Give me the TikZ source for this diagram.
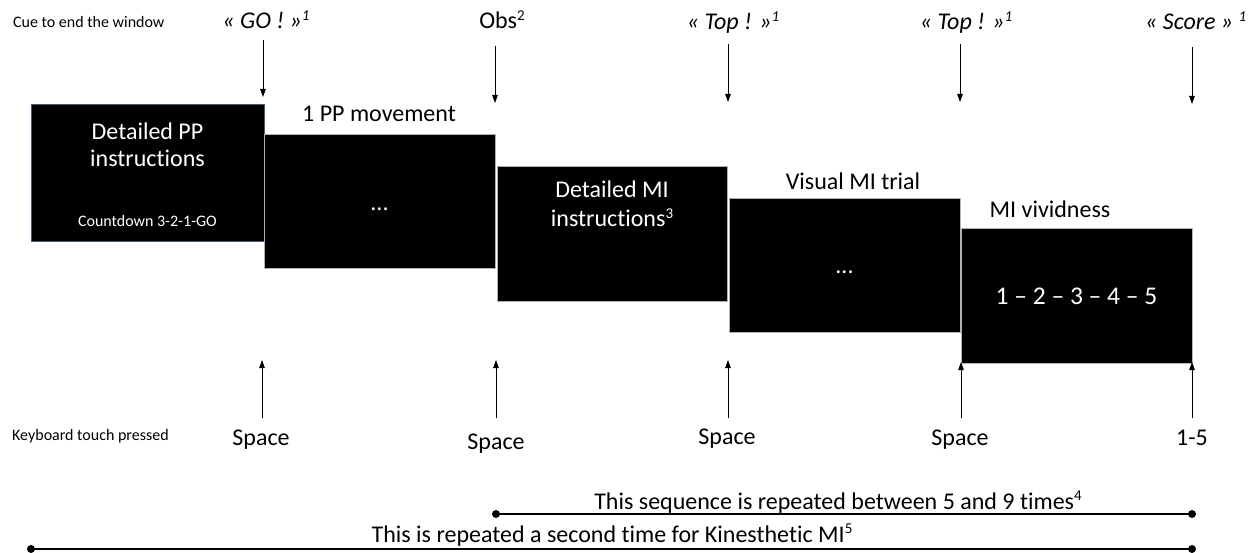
\documentclass[tikz,border=0pt]{standalone}
\usepackage{fontspec}
\setmainfont[Ligatures=NoCommon]{Carlito}
\usetikzlibrary{arrows.meta}
\newcommand\sps[1]{\raisebox{0.36em}{\fontsize{15}{18}\selectfont #1}}
\begin{document}
\begin{tikzpicture}[x=1pt,y=-1pt,
  scr/.style={fill=black,draw=gray!60,line width=0.8pt,inner sep=0pt},
  txt/.style={inner sep=0pt,anchor=base,font=\fontsize{24}{29}\selectfont},
  wtxt/.style={txt,text=white},
  small/.style={inner sep=0pt,anchor=base west,font=\fontsize{16}{19}\selectfont},
  cue/.style={txt,font=\fontsize{24}{29}\selectfont\itshape},
  arr/.style={line width=0.9pt,-{Triangle[length=8pt,width=5.5pt]}},
  rep/.style={line width=2.2pt},
  enddot/.style={circle,fill=black,inner sep=0pt,minimum size=8pt}]
\path[use as bounding box] (0,0) rectangle (1257,553);

% screens
\node[scr,draw={rgb,255:red,70;green,90;blue,120},minimum width=233,minimum height=137] (s1) at (147.5,172.5) {};
\node[scr,minimum width=231,minimum height=134] (s2) at (379.5,201) {};
\node[scr,minimum width=230,minimum height=135] (s3) at (612,233.5) {};
\node[scr,minimum width=231,minimum height=134] (s4) at (844.5,265) {};
\node[scr,minimum width=231,minimum height=135] (s5) at (1076.5,295.5) {};

% texts inside screens
\node[wtxt] (s1a) at (147.5,140) {Detailed PP};
\node[wtxt] (s1b) at (147.5,167) {instructions};
\node[wtxt,font=\fontsize{16}{19}\selectfont] (s1c) at (147.5,227) {Countdown 3-2-1-GO};
\node[wtxt] (s2a) at (379.5,211) {...};
\node[wtxt] (s3a) at (612,198) {Detailed MI};
\node[wtxt] (s3b) at (612,227) {instructions\sps{3}};
\node[wtxt] (s4a) at (844.5,273) {...};
\node[wtxt,font=\fontsize{25.5}{31}\selectfont] (s5a) at (1076.5,304) {1 – 2 – 3 – 4 – 5};

% titles above screens
\node[txt] (t2) at (379,122) {1 PP movement};
\node[txt] (t4) at (853,190) {Visual MI trial};
\node[txt] (t5) at (1050,218) {MI vividness};

% row labels
\node[small] (cuelbl) at (13,28) {Cue to end the window};
\node[small] (keylbl) at (12,440) {Keyboard touch pressed};

% cues
\node[cue] (c1) at (266,29) {« GO ! »\sps{1}};
\node[txt] (c2) at (502,29) {Obs\sps{2}};
\node[cue] (c3) at (733,30) {« Top ! »\sps{1}};
\node[cue] (c4) at (966,30) {« Top ! »\sps{1}};
\node[cue,anchor=base west] (c5) at (1145,30) {« Score » \sps{1}};

% top arrows
\coordinate (a1) at (263,40);  \coordinate (a1e) at (263,97);
\coordinate (a2) at (495,46);  \coordinate (a2e) at (495,103);
\coordinate (a3) at (728,44);  \coordinate (a3e) at (728,102);
\coordinate (a4) at (960,44);  \coordinate (a4e) at (960,102);
\coordinate (a5) at (1192,47); \coordinate (a5e) at (1192,104);
\draw[arr] (a1) -- (a1e);
\draw[arr] (a2) -- (a2e);
\draw[arr] (a3) -- (a3e);
\draw[arr] (a4) -- (a4e);
\draw[arr] (a5) -- (a5e);

% keys
\node[txt] (k1) at (261,445) {Space};
\node[txt] (k2) at (496,449) {Space};
\node[txt] (k3) at (727,444) {Space};
\node[txt] (k4) at (960,445) {Space};
\node[txt] (k5) at (1192,445) {1-5};

% bottom arrows
\coordinate (b1) at (262,418);  \coordinate (b1e) at (262,360);
\coordinate (b2) at (496,418);  \coordinate (b2e) at (496,360);
\coordinate (b3) at (728,418);  \coordinate (b3e) at (728,360);
\coordinate (b4) at (961,418);  \coordinate (b4e) at (961,362);
\coordinate (b5) at (1192,418); \coordinate (b5e) at (1192,362);
\draw[arr] (b1) -- (b1e);
\draw[arr] (b2) -- (b2e);
\draw[arr] (b3) -- (b3e);
\draw[arr] (b4) -- (b4e);
\draw[arr] (b5) -- (b5e);

% repetition bars
\node[enddot] (r1a) at (496,514) {};
\node[enddot] (r1b) at (1192,514) {};
\draw[rep] (r1a.center) -- (r1b.center);
\node[txt] (r1t) at (838,509) {This sequence is repeated between 5 and 9 times\sps{4}};

\node[enddot] (r2a) at (31,549) {};
\node[enddot] (r2b) at (1192,549) {};
\draw[rep] (r2a.center) -- (r2b.center);
\node[txt] (r2t) at (612,542) {This is repeated a second time for Kinesthetic MI\sps{5}};
\end{tikzpicture}
\end{document}
